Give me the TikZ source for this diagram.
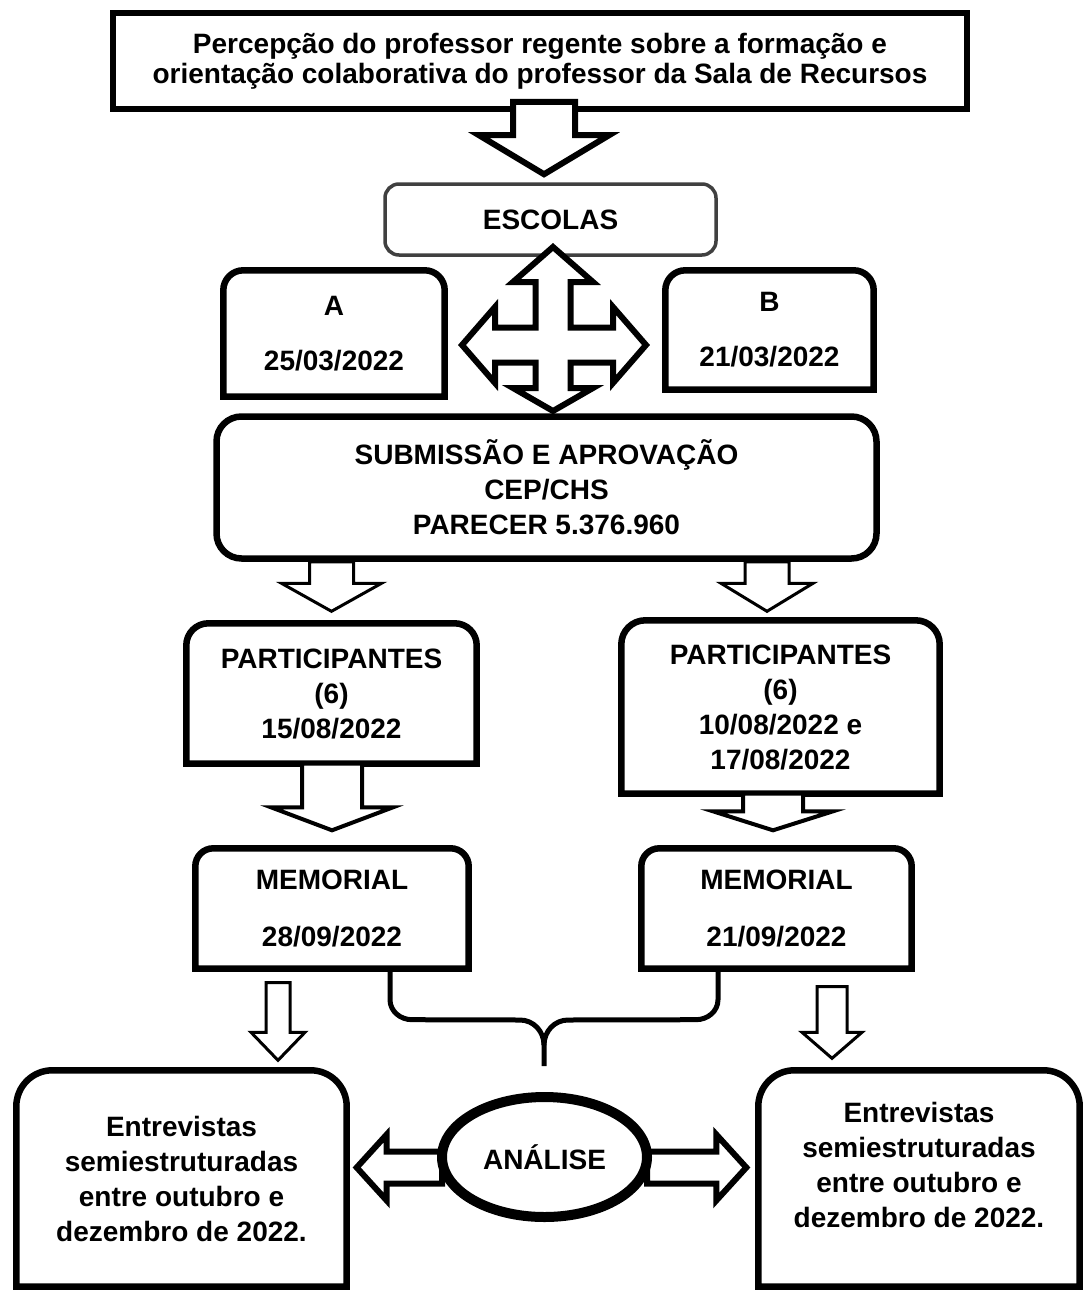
\documentclass[tikz,border=0pt]{standalone}
\usepackage{fontspec}
\setmainfont{Liberation Sans}
\usetikzlibrary{calc, shapes.geometric, backgrounds}

% frame with rounded top corners, square bottom corners
\newcommand{\topround}[3][]{%
  \draw[#1] (#2.south west) -- ($(#2.north west)+(0,-#3)$)
    arc[start angle=180, end angle=90, radius=#3]
    -- ($(#2.north east)+(-#3,0)$)
    arc[start angle=90, end angle=0, radius=#3] -- (#2.south east) -- cycle;}
% block arrows: style, start, tip, shaft half width, head half width, head length
\newcommand{\blockv}[6]{%
  \draw[#1] let \p1=(#2), \p2=(#3) in
    (\x2-#4,\y1) -- (\x2-#4,\y2+#6) -- (\x2-#5,\y2+#6) -- (\x2,\y2)
    -- (\x2+#5,\y2+#6) -- (\x2+#4,\y2+#6) -- (\x2+#4,\y1) -- cycle;}
% horizontal: last argument is the offset from tip to head base (+ for a left arrow)
\newcommand{\blockh}[6]{%
  \draw[#1] let \p1=(#2), \p2=(#3), \p3=($(#3)+(#6,0)$) in
    (\x1,\y2+#4) -- (\x3,\y2+#4) -- (\x3,\y2+#5) -- (\x2,\y2)
    -- (\x3,\y2-#5) -- (\x3,\y2-#4) -- (\x1,\y2-#4) -- cycle;}

\begin{document}
\begin{tikzpicture}[x=1pt, y=1pt,
  caixa/.style={inner sep=0pt, align=center, font=\fontsize{28}{35}\selectfont\bfseries},
  moldura/.style={line width=6.5pt},
  seta/.style={draw, fill=white, line join=miter},
  chave/.style={line width=5pt, line join=round}]
\begin{pgfonlayer}{background}
\fill[white] (0,0) rectangle (1085,-1295);
\end{pgfonlayer}
\useasboundingbox (0,0) rectangle (1085,-1295);

\node[caixa, draw, line width=6pt, minimum width=854, minimum height=96, font=\fontsize{28}{30}\selectfont\bfseries] (tema) at (540,-61) {Percepção do professor regente sobre a formação e\\orientação colaborativa do professor da Sala de Recursos};
\node[caixa, draw=black!75, line width=3.5pt, rounded corners=14, minimum width=331, minimum height=71] (escolas) at (550.5,-219.5) {ESCOLAS};
\node[caixa, minimum width=221, minimum height=126] (escA) at (334,-333.5) {A\\[20pt]25/03/2022};
\node[caixa, minimum width=208, minimum height=119] (escB) at (769.5,-330) {B\\[20pt]21/03/2022};
\node[caixa, draw, line width=6.5pt, rounded corners=25, minimum width=660, minimum height=142] (sub) at (546.5,-487.5) {SUBMISSÃO E APROVAÇÃO\\CEP/CHS\\PARECER 5.376.960};
\node[caixa, minimum width=290, minimum height=140] (partA) at (331.5,-693.5) {PARTICIPANTES\\(6)\\15/08/2022};
\node[caixa, minimum width=318, minimum height=173] (partB) at (780.5,-707) {PARTICIPANTES\\(6)\\10/08/2022 e\\17/08/2022};
\node[caixa, minimum width=273, minimum height=120] (memA) at (332,-908.5) {MEMORIAL\\[22pt]28/09/2022};
\node[caixa, minimum width=270, minimum height=120] (memB) at (776.5,-908.5) {MEMORIAL\\[22pt]21/09/2022};
\node[caixa, minimum width=330, minimum height=216] (entA) at (181.5,-1178.5) {Entrevistas\\semiestruturadas\\entre outubro e\\dezembro de 2022.};
\node[caixa, minimum width=321, minimum height=216] (entB) at (919,-1178.5) {};
\node[caixa] (entBtxt) at ($(entB)+(0,14)$) {Entrevistas\\semiestruturadas\\entre outubro e\\dezembro de 2022.};
\node[caixa, draw, ellipse, line width=10pt, minimum width=205, minimum height=120] (analise) at (544.5,-1157) {ANÁLISE};

\topround[moldura]{escA}{20}
\topround[moldura]{escB}{20}
\topround[moldura]{partA}{22}
\topround[moldura]{partB}{24}
\topround[moldura]{memA}{18}
\topround[moldura]{memB}{18}
\topround[moldura]{entA}{36}
\topround[moldura]{entB}{36}

\blockv{seta, line width=6pt}{$(tema.south)+(0,10)$}{$(escolas.north)+(-6.5,8)$}{31}{65}{39}
\coordinate (cruz) at (553,-345);
\draw[seta, line width=6pt, shift={(cruz)}] (0,98) -- (40,63) -- (17.5,63) -- (17.5,17.5) -- (60,17.5) -- (60,38) -- (93,0) -- (60,-38) -- (60,-17.5) -- (17.5,-17.5) -- (17.5,-43) -- (40,-43) -- (0,-66) -- (-40,-43) -- (-17.5,-43) -- (-17.5,-17.5) -- (-58,-17.5) -- (-58,-38) -- (-91,0) -- (-58,38) -- (-58,17.5) -- (-17.5,17.5) -- (-17.5,63) -- (-40,63) -- cycle;
\blockv{seta, line width=3pt}{sub.south}{$(partA.north)+(0,12)$}{22}{50}{28}
\blockv{seta, line width=3pt}{sub.south}{$(partB.north)+(-13.5,9)$}{22}{46}{28}
\blockv{seta, line width=4pt}{partA.south}{$(memA.north)+(0,18)$}{30}{61}{23}
\blockv{seta, line width=4pt}{partB.south}{$(memB.north)+(-3.5,18)$}{30}{60}{19}
\blockv{seta, line width=3pt}{$(memA.south)+(0,-14)$}{$(entA.north)+(96.5,10)$}{12}{27}{28}
\blockv{seta, line width=3pt}{$(memB.south)+(0,-18)$}{$(entB.north)+(-87,12)$}{15}{30}{26}
\begin{pgfonlayer}{background}
\blockh{seta, line width=6pt}{$(analise.west)+(5,10)$}{$(entA.east)+(10,11)$}{16}{33}{30}
\blockh{seta, line width=6pt}{$(analise.east)+(-5,10)$}{$(entB.west)+(-12,11)$}{16}{33}{-30}
\end{pgfonlayer}

\coordinate (juncao) at (544,-1045);
\coordinate (ponta) at (544,-1066);
\draw[chave] ($(memA.south)+(58,0)$) -- ++(0,-31) to[out=-90,in=180] ++(22,-20) -- ($(juncao)+(-24,25)$) to[out=0,in=90] (juncao) -- (ponta);
\draw[chave] ($(memB.south)+(-58.5,0)$) -- ++(0,-31) to[out=-90,in=0] ++(-22,-20) -- ($(juncao)+(24,25)$) to[out=180,in=90] (juncao);
\end{tikzpicture}
\end{document}
